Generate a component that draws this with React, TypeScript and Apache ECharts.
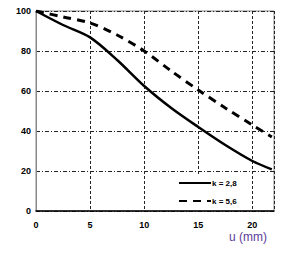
import React, { useEffect, useRef } from "react";
import * as echarts from "echarts";

const uValues = [0, 2.5, 5, 7.5, 10, 12.5, 15, 17.5, 20, 21.8];
const k28 = [100, 93, 86.8, 75.5, 62.5, 51.5, 42, 33, 25, 20.8];
const k56 = [100, 97, 94, 88, 80, 70, 60.5, 51.5, 43, 37];
const seriesNames = ["k = 2,8", "k = 5,6"];
const xTitle = "u (mm)";

export default function App() {
  const ref = useRef<HTMLDivElement>(null);
  useEffect(() => {
    if (!ref.current) return;
    const chart = echarts.init(ref.current, undefined, { renderer: "svg" });
    const font = "'Liberation Sans', Arial, sans-serif";
    chart.setOption({
      animation: false,
      grid: {
        left: 36,
        right: 31,
        top: 11,
        bottom: 48,
        show: true,
        borderColor: "#888",
        borderWidth: 1,
        backgroundColor: "transparent",
      },
      xAxis: {
        type: "value",
        min: 0,
        max: 22,
        interval: 5,
        axisLine: { show: true, onZero: false, lineStyle: { color: "#000", width: 1.5 } },
        axisTick: { show: false },
        axisLabel: {
          showMaxLabel: false,
          margin: 9,
          color: "#000",
          fontSize: 9,
          fontWeight: "bold",
          fontFamily: font,
        },
        splitLine: { show: true, lineStyle: { color: "#222", type: [3, 2], width: 1 } },
      },
      yAxis: {
        type: "value",
        min: 0,
        max: 100,
        interval: 20,
        axisLine: { show: true, lineStyle: { color: "#888", width: 1 } },
        axisTick: { show: false },
        axisLabel: {
          margin: 5,
          color: "#000",
          fontSize: 9,
          fontWeight: "bold",
          fontFamily: font,
        },
        splitLine: { show: true, lineStyle: { color: "#222", type: [4, 2, 1, 2], width: 1 } },
      },
      legend: {
        orient: "vertical",
        left: 170,
        top: 174,
        backgroundColor: "#fff",
        padding: [5, 10, 4, 8],
        itemWidth: 32,
        itemHeight: 10,
        itemGap: 10,
        itemStyle: { opacity: 0 },
        textStyle: { fontSize: 8, fontWeight: "bold", fontFamily: font, color: "#000", padding: [0, 0, 0, -4] },
        data: seriesNames,
      },
      series: [
        {
          name: seriesNames[0],
          type: "line",
          smooth: 0.3,
          showSymbol: false,
          symbol: "none",
          data: uValues.map((u, i) => [u, k28[i]]),
          lineStyle: { color: "#000", width: 2.5 },
          itemStyle: { color: "#000" },
        },
        {
          name: seriesNames[1],
          type: "line",
          smooth: 0.3,
          showSymbol: false,
          symbol: "none",
          data: uValues.map((u, i) => [u, k56[i]]),
          lineStyle: { color: "#000", width: 3, type: [8, 6] },
          itemStyle: { color: "#000" },
        },
      ],
      graphic: [
        {
          type: "text",
          left: 229,
          top: 231,
          style: { text: xTitle, fontSize: 12, fontFamily: font, fill: "#5b3a9a" },
        },
      ],
    });
    return () => chart.dispose();
  }, []);
  return <div ref={ref} style={{ width: 305, height: 259, position: "absolute", left: 0, top: 0 }} />;
}
